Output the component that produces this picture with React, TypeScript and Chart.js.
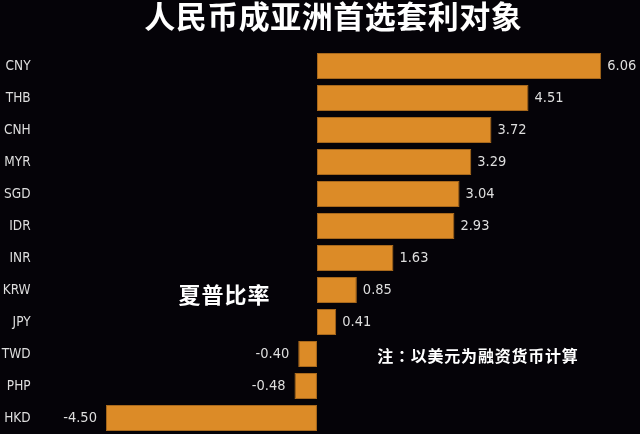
import React, { useEffect, useRef } from "react";
import { Chart, registerables } from "chart.js";

Chart.register(...registerables);

const categories = ["CNY", "THB", "CNH", "MYR", "SGD", "IDR", "INR", "KRW", "JPY", "TWD", "PHP", "HKD"];
const sharpeValues = [6.06, 4.51, 3.72, 3.29, 3.04, 2.93, 1.63, 0.85, 0.41, -0.4, -0.48, -4.5];
const titleText = "人民币成亚洲首选套利对象";
const seriesLabel = "夏普比率";
const noteText = "注：以美元为融资货币计算";

const BG = "#050308";
const BAR = "#dc8b27";
const BAR_BORDER = "#a9691c";
const LABEL = "#dedede";
const NARROW = "'DejaVu Sans Condensed', 'DejaVu Sans', sans-serif";

function spacedText(ctx: any, text: string, cx: number, cy: number, spacing: number) {
  ctx.letterSpacing = spacing + "px";
  ctx.fillText(text, cx + spacing / 2, cy);
  ctx.letterSpacing = "0px";
}

const overlayPlugin = {
  id: "overlay",
  beforeDraw(chart: any) {
    const { ctx, width, height } = chart;
    ctx.save();
    ctx.fillStyle = BG;
    ctx.fillRect(0, 0, width, height);
    ctx.restore();
  },
  afterDatasetsDraw(chart: any) {
    const { ctx } = chart;
    const meta = chart.getDatasetMeta(0);
    const data = chart.data.datasets[0].data as number[];
    ctx.save();
    ctx.font = "14.5px " + NARROW;
    ctx.fillStyle = LABEL;
    ctx.textBaseline = "middle";
    meta.data.forEach((el: any, i: number) => {
      const v = data[i];
      const txt = v.toFixed(2);
      if (v >= 0) {
        ctx.textAlign = "left";
        ctx.fillText(txt, el.x + 6, el.y);
      } else {
        ctx.textAlign = "right";
        ctx.fillText(txt, el.x - 9, el.y);
      }
    });
    ctx.restore();
  },
  afterDraw(chart: any) {
    const { ctx } = chart;
    ctx.save();
    ctx.fillStyle = "#ffffff";
    ctx.textAlign = "center";
    ctx.textBaseline = "middle";
    ctx.font = "bold 31px 'Noto Sans CJK SC', sans-serif";
    spacedText(ctx, titleText, 333, 16, 0.5);
    ctx.font = "bold 22px 'Noto Sans CJK SC', sans-serif";
    spacedText(ctx, seriesLabel, 224, 295, 1);
    ctx.font = "bold 16px 'Noto Sans CJK TC', 'Noto Sans CJK SC', sans-serif";
    spacedText(ctx, noteText, 477.5, 356, 0.75);
    ctx.restore();
  },
};

export default function App() {
  const ref = useRef<HTMLCanvasElement | null>(null);
  useEffect(() => {
    document.body.style.margin = "0";
    document.body.style.background = BG;
    if (!ref.current) return;
    const chart = new Chart(ref.current, {
      type: "bar",
      data: {
        labels: categories,
        datasets: [
          {
            label: seriesLabel,
            data: sharpeValues,
            backgroundColor: BAR,
            borderColor: BAR_BORDER,
            borderWidth: 1,
            borderSkipped: false,
            barPercentage: 0.81,
            categoryPercentage: 1,
          },
        ],
      },
      options: {
        indexAxis: "y",
        animation: false,
        responsive: false,
        maintainAspectRatio: false,
        layout: { padding: { top: 50, right: 8.8, bottom: 0, left: 0 } },
        plugins: {
          legend: { display: false },
          title: { display: false },
          tooltip: { enabled: false },
        },
        scales: {
          x: {
            display: false,
            min: -6,
            max: 6.7,
            grid: { display: false },
          },
          y: {
            grid: { display: false, drawTicks: false },
            border: { display: false },
            ticks: {
              color: LABEL,
              padding: 5,
              font: { family: NARROW, size: 13.5 },
            },
            afterFit(scale: any) {
              scale.width = 35.6;
              scale.paddingTop = 0;
              scale.paddingBottom = 0;
            },
          },
        },
      },
      plugins: [overlayPlugin],
    });
    return () => chart.destroy();
  }, []);
  return (
    <div style={{ position: "fixed", left: 0, top: 0, width: 640, height: 434, background: BG }}>
      <canvas ref={ref} width={640} height={434} style={{ width: 640, height: 434, display: "block" }} />
    </div>
  );
}
